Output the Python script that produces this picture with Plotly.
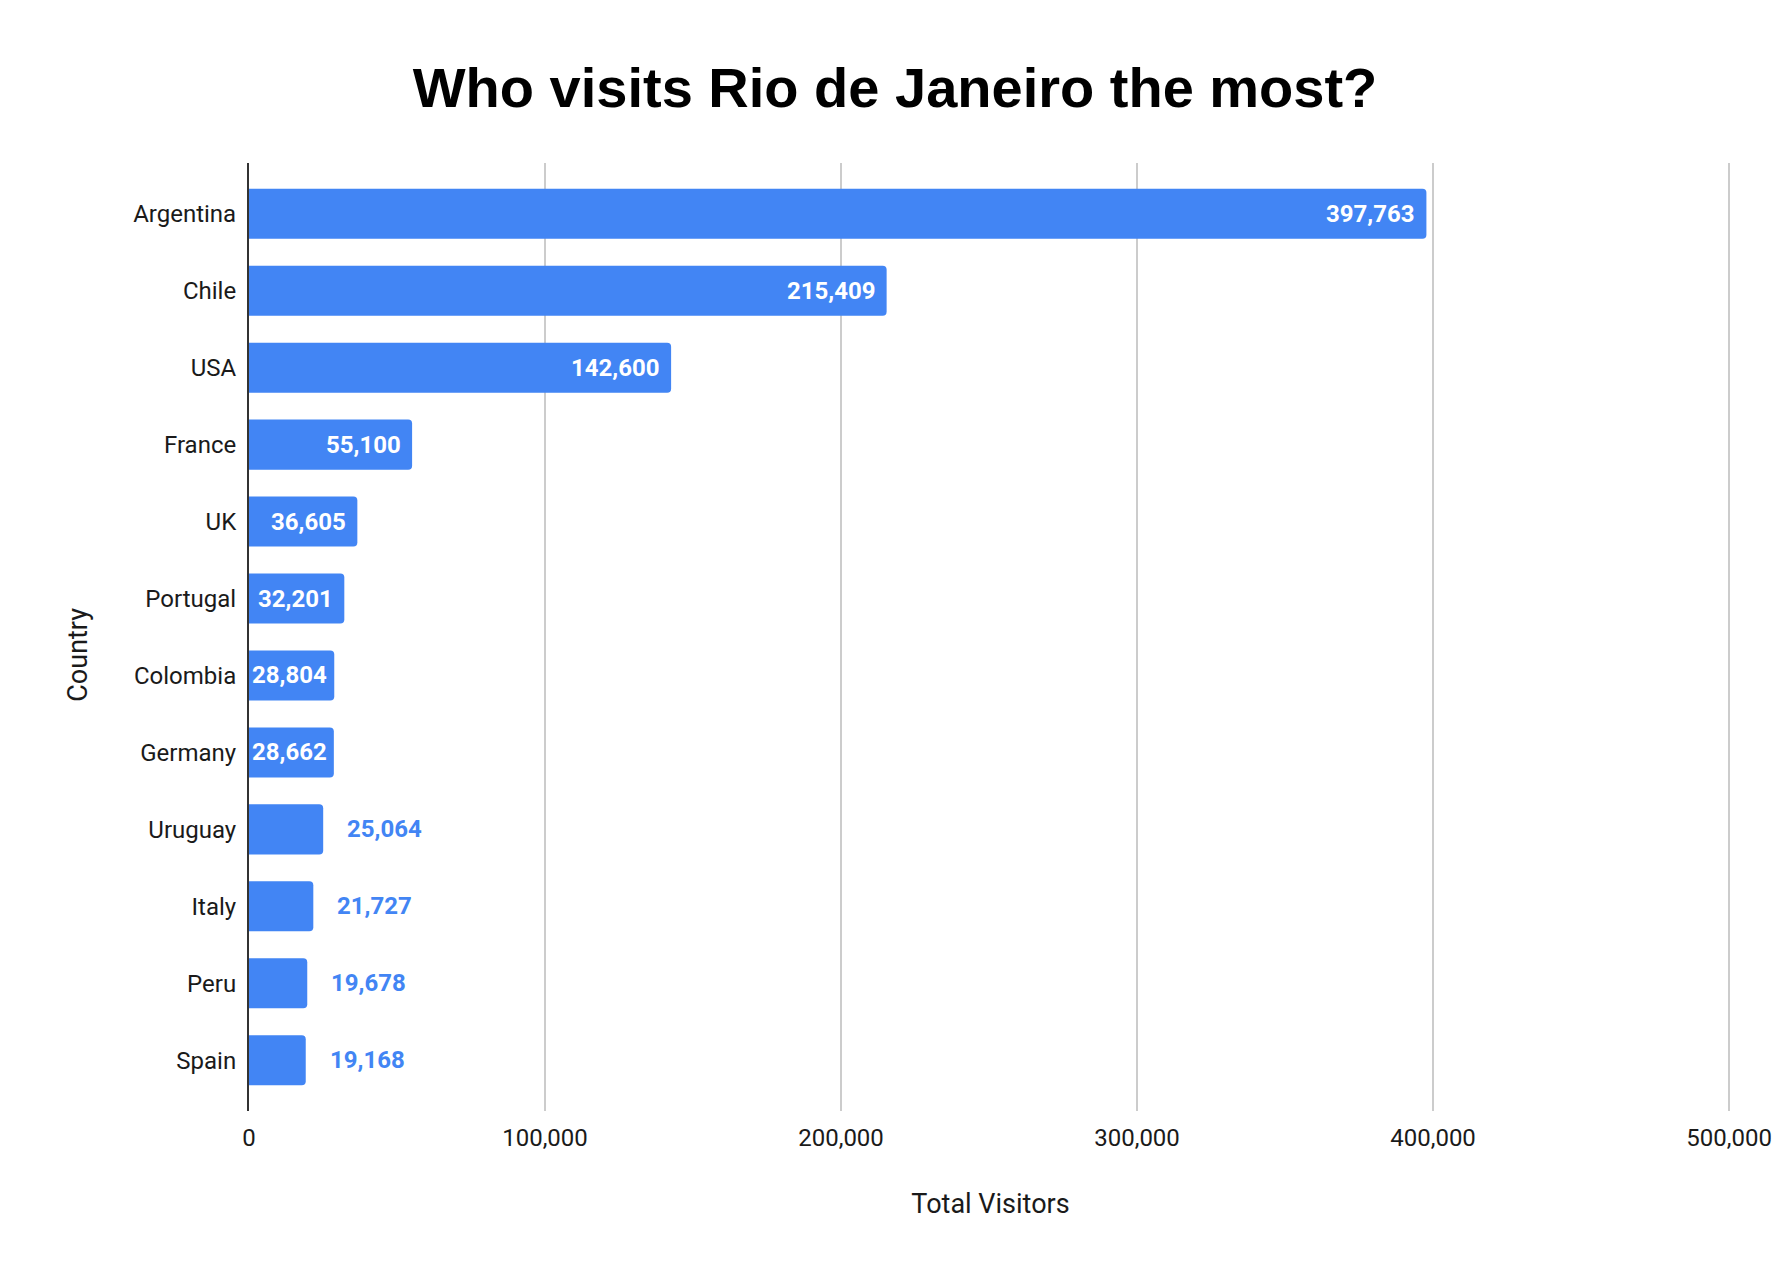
import plotly.graph_objects as go

countries = ["Argentina", "Chile", "USA", "France", "UK", "Portugal",
             "Colombia", "Germany", "Uruguay", "Italy", "Peru", "Spain"]
visitors = [397763, 215409, 142600, 55100, 36605, 32201,
            28804, 28662, 25064, 21727, 19678, 19168]
x_ticks = [0, 100000, 200000, 300000, 400000, 500000]

BLUE = "#4285F4"
INSIDE_MIN = 28000  # labels that fit inside the bar

fig = go.Figure()
fig.add_trace(
    go.Bar(
        x=visitors,
        y=countries,
        orientation="h",
        marker=dict(color=BLUE, cornerradius=4, line=dict(width=0)),
        hoverinfo="x+y",
    )
)

# value labels: white inside the long bars, blue outside the short ones
for name, val in zip(countries, visitors):
    inside = val >= INSIDE_MIN
    shift = 22
    if inside:
        shift = -5 if val < 30000 else -9
    fig.add_annotation(
        x=val, y=name, xref="x", yref="y",
        text=f"{val:,}",
        showarrow=False,
        xanchor="right" if inside else "left",
        xshift=shift,
        font=dict(family="Roboto", size=24, color="white" if inside else BLUE,
                  weight="bold"),
    )

# y axis title sits a bit below the middle of the plot, so place it by hand
fig.add_annotation(
    text="Country",
    xref="paper", yref="paper",
    x=-0.1155, y=0.481,
    xanchor="center", yanchor="middle",
    textangle=-90,
    showarrow=False,
    font=dict(family="Roboto", size=27, color="#1a1a1a"),
)

fig.update_layout(
    width=1792,
    height=1282,
    margin=dict(l=241, r=68, t=155, b=179),
    paper_bgcolor="white",
    plot_bgcolor="white",
    showlegend=False,
    bargap=0.35,
    title=dict(
        text="<b>Who visits Rio de Janeiro the most?</b>",
        x=0.495, xanchor="center",
        y=1 - 79 / 1282, yanchor="middle",
        font=dict(family="Liberation Sans", size=56, color="black"),
    ),
    font=dict(family="Roboto", size=24, color="#1a1a1a"),
)

fig.update_xaxes(
    range=[0, 501000],  # a little past 500k so its gridline is drawn
    tickvals=x_ticks,
    ticktext=[f"{v:,}" for v in x_ticks],
    showgrid=True,
    gridcolor="#cccccc",
    gridwidth=2,
    zeroline=False,
    showline=False,
    ticks="",
    ticklabelstandoff=10,
    tickfont=dict(family="Roboto", size=24, color="#1a1a1a"),
    title=dict(text="Total Visitors", standoff=43,
               font=dict(family="Roboto", size=27, color="#1a1a1a")),
)

fig.update_yaxes(
    type="category",
    categoryorder="array",
    categoryarray=countries,
    range=[11.66, -0.66],
    showgrid=False,
    zeroline=False,
    showline=True,
    linecolor="#333333",
    linewidth=2,
    ticks="",
    ticklabelstandoff=6,
    tickfont=dict(family="Roboto", size=24, color="#1a1a1a"),
)

fig.write_html("out.html")
